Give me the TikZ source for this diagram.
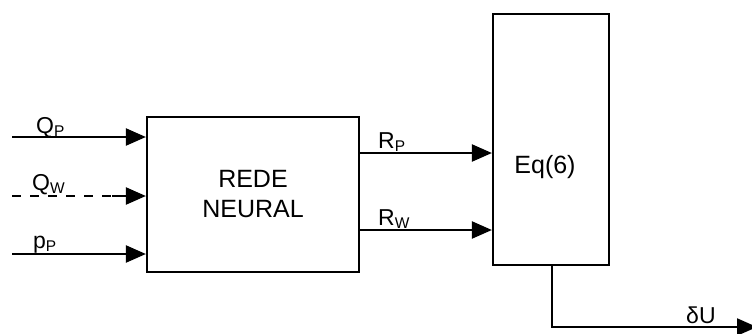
\documentclass[tikz,border=0pt]{standalone}
\usepackage{fontspec}
\setmainfont{Liberation Sans}
\usetikzlibrary{arrows.meta}
\newcommand{\subtxt}[1]{\raisebox{-3pt}{\fontsize{15.5}{15.5}\selectfont #1}}
\tikzset{
  blk/.style={draw=black, line width=2.2pt, rectangle, inner sep=0pt},
  arr/.style={draw=black, line width=2.2pt, -{Triangle[length=20pt,width=17pt]}},
  ln/.style={draw=black, line width=2.2pt},
  lab/.style={anchor=base west, inner sep=0pt, font=\fontsize{23}{27}\selectfont},
  big/.style={inner sep=0pt, align=center, font=\fontsize{25}{30}\selectfont}
}
\begin{document}
\begin{tikzpicture}[x=1pt,y=-1pt]
\useasboundingbox (0,0) rectangle (752,333);
% blocks
\node[blk, minimum width=212pt, minimum height=155pt] (nn) at (253,194.5) {};
\node[big] (nntext) at (253,194) {REDE\\NEURAL};
\node[blk, minimum width=116pt, minimum height=251pt] (eq) at (551,139.5) {};
\node[big] (eqtext) at (545,167) {Eq(6)};
% input coordinates
\coordinate (qp0) at (12,137);
\coordinate (qw0) at (12,196);
\coordinate (qw1) at (112,196);
\coordinate (pp0) at (12,254);
% inputs
\draw[arr] (qp0) -- (qp0 -| nn.west);
\draw[ln, dash pattern=on 9pt off 9pt] (qw0) -- (qw1);
\draw[arr] (qw1) -- (qw1 -| nn.west);
\draw[arr] (pp0) -- (pp0 -| nn.west);
\node[lab] (lqp) at (36,133) {Q\subtxt{P}};
\node[lab] (lqw) at (32,190) {Q\subtxt{W}};
\node[lab] (lpp) at (33,248) {p\subtxt{P}};
% middle connectors
\coordinate (rpy) at (0,153);
\coordinate (rwy) at (0,230);
\draw[arr] (nn.east |- rpy) -- (eq.west |- rpy);
\draw[arr] (nn.east |- rwy) -- (eq.west |- rwy);
\node[lab] (lrp) at (378,148) {R\subtxt{P}};
\node[lab] (lrw) at (378,225) {R\subtxt{W}};
% output
\coordinate (du1) at (552,327);
\coordinate (du2) at (757,327);
\draw[arr] (eq.south -| du1) -- (du1) -- (du2);
\node[lab] (ldu) at (686,323) {δU};
\end{tikzpicture}
\end{document}
